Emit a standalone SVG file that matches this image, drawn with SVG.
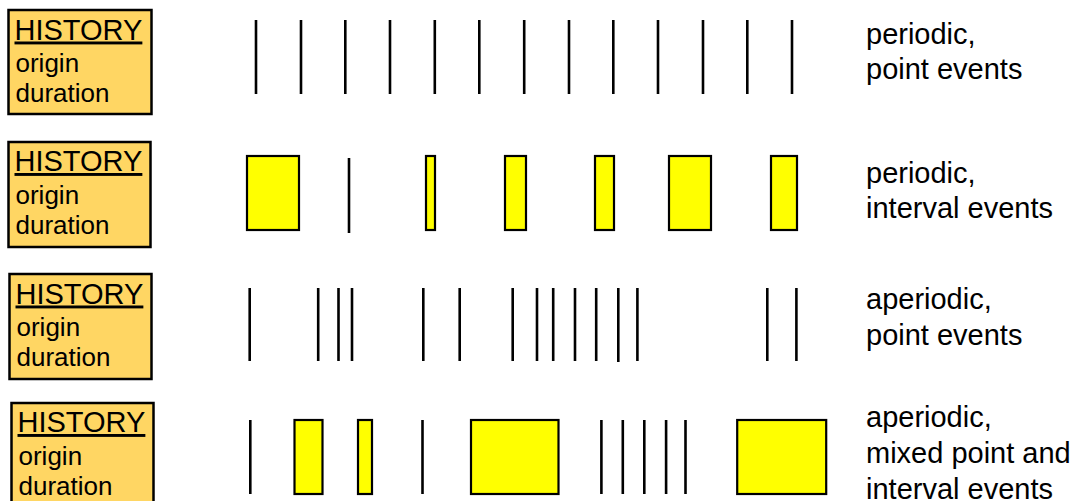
<svg xmlns="http://www.w3.org/2000/svg" width="1073" height="501" viewBox="0 0 1073 501">
<style>
  .box { fill: #FFD663; stroke: #000; stroke-width: 2.5; }
  .ev { fill: #FFFF00; stroke: #000; stroke-width: 2.2; }
  .pt { stroke: #000; stroke-width: 2.6; fill: none; }
  .hd { font-family: "Liberation Sans", Arial, sans-serif; font-size: 29px; fill: #000; text-decoration: underline; }
  .at { font-family: "Liberation Sans", Arial, sans-serif; font-size: 26px; fill: #000; }
  .lb { font-family: "Liberation Sans", Arial, sans-serif; font-size: 29px; fill: #000; }
</style>
<rect width="1073" height="501" fill="#fff"/>

<!-- Row 1 -->
<g id="history1">
  <rect class="box" x="8.5" y="10" width="143" height="104"/>
  <text class="hd" x="14.5" y="39.5">HISTORY</text>
  <text class="at" x="15.5" y="71.5">origin</text>
  <text class="at" x="15.5" y="101.5">duration</text>
</g>
<g id="events1">
  <path class="pt" d="M256,20V94 M301,20V94 M345.3,20V94 M390,20V94 M434.8,20V94 M479.3,20V94 M524.2,20V94 M569,20V94 M613.3,20V94 M658,20V94 M703,20V94 M747.3,20V94 M792,20V94"/>
</g>
<g id="label1">
  <text class="lb" x="866" y="43.5">periodic,</text>
  <text class="lb" x="866" y="79">point events</text>
</g>

<!-- Row 2 -->
<g id="history2">
  <rect class="box" x="8.5" y="142" width="142" height="105"/>
  <text class="hd" x="14.5" y="171">HISTORY</text>
  <text class="at" x="15.5" y="204">origin</text>
  <text class="at" x="15.5" y="233.5">duration</text>
</g>
<g id="events2">
  <rect class="ev" x="247" y="156" width="52" height="74"/>
  <path class="pt" d="M349,158V233"/>
  <rect class="ev" x="426" y="156" width="9" height="74"/>
  <rect class="ev" x="505" y="156" width="21" height="74"/>
  <rect class="ev" x="595" y="156" width="19" height="74"/>
  <rect class="ev" x="669" y="156" width="42" height="74"/>
  <rect class="ev" x="771" y="156" width="26" height="74"/>
</g>
<g id="label2">
  <text class="lb" x="866" y="182.5">periodic,</text>
  <text class="lb" x="866" y="218">interval events</text>
</g>

<!-- Row 3 -->
<g id="history3">
  <rect class="box" x="9.5" y="274" width="142" height="105"/>
  <text class="hd" x="15.5" y="303.5">HISTORY</text>
  <text class="at" x="16.5" y="336">origin</text>
  <text class="at" x="16.5" y="365.5">duration</text>
</g>
<g id="events3">
  <path class="pt" d="M249.7,288V361 M318.2,288V361 M338.5,288V361 M352,288V361 M423.3,288V361 M459.7,288V361 M512.7,288V361 M537,288V361 M553.2,288V361 M575,288V361 M596.2,288V361 M618.3,288V362 M637.4,288V361 M767.3,288V361 M796.4,288V361"/>
</g>
<g id="label3">
  <text class="lb" x="866" y="309">aperiodic,</text>
  <text class="lb" x="866" y="344.5">point events</text>
</g>

<!-- Row 4 -->
<g id="history4">
  <rect class="box" x="11.5" y="403" width="142" height="110"/>
  <text class="hd" x="17.5" y="432">HISTORY</text>
  <text class="at" x="18.5" y="465">origin</text>
  <text class="at" x="18.5" y="494.5">duration</text>
</g>
<g id="events4">
  <path class="pt" d="M250.3,420V494"/>
  <rect class="ev" x="294.5" y="420" width="28" height="74"/>
  <rect class="ev" x="358" y="420" width="14" height="74"/>
  <path class="pt" d="M422.5,420V494"/>
  <rect class="ev" x="471" y="420" width="87.5" height="74"/>
  <path class="pt" d="M601.4,420V494 M622.8,420V494 M644.3,420V494 M666.1,420V494 M685.5,420V494"/>
  <rect class="ev" x="737.2" y="420" width="89" height="74"/>
</g>
<g id="label4">
  <text class="lb" x="866" y="427">aperiodic,</text>
  <text class="lb" x="866" y="463">mixed point and</text>
  <text class="lb" x="866" y="499">interval events</text>
</g>
</svg>
